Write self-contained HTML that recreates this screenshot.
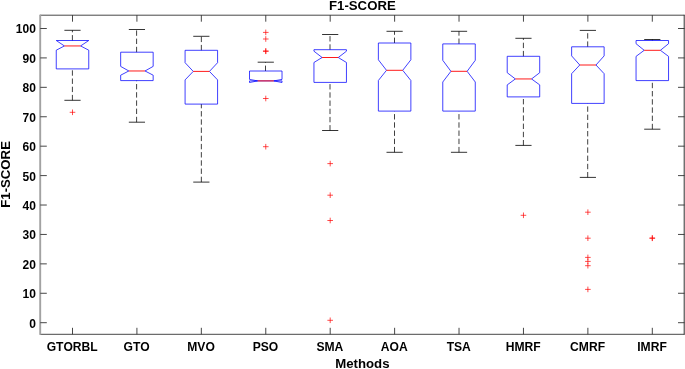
<!DOCTYPE html>
<html><head><meta charset="utf-8"><title>F1-SCORE</title>
<style>html,body{margin:0;padding:0;background:#fff;}body{width:685px;height:369px;overflow:hidden;position:relative;font-family:"Liberation Sans",sans-serif;}</style>
</head><body>
<svg width="685" height="369" viewBox="0 0 685 369" style="position:absolute;left:0;top:0;will-change:transform">
<g stroke="#262626" stroke-width="0.85" fill="none">
<path d="M39.9 15.2H684.5M39.9 334.3H684.5"/>
<path d="M684.2 14.8V334.7" stroke-width="0.95"/>
<path d="M40.2 14.8V334.7" stroke-width="1.9" stroke="#a2a2a2"/>
<path d="M72.50 15.2v6.5M72.50 334.3v-6.5"/>
<path d="M136.92 15.2v6.5M136.92 334.3v-6.5"/>
<path d="M201.34 15.2v6.5M201.34 334.3v-6.5"/>
<path d="M265.77 15.2v6.5M265.77 334.3v-6.5"/>
<path d="M330.19 15.2v6.5M330.19 334.3v-6.5"/>
<path d="M394.61 15.2v6.5M394.61 334.3v-6.5"/>
<path d="M459.03 15.2v6.5M459.03 334.3v-6.5"/>
<path d="M523.46 15.2v6.5M523.46 334.3v-6.5"/>
<path d="M587.88 15.2v6.5M587.88 334.3v-6.5"/>
<path d="M652.30 15.2v6.5M652.30 334.3v-6.5"/>
<path d="M40.3 322.70h6.5M684.5 322.70h-6.5"/>
<path d="M40.3 293.28h6.5M684.5 293.28h-6.5"/>
<path d="M40.3 263.86h6.5M684.5 263.86h-6.5"/>
<path d="M40.3 234.44h6.5M684.5 234.44h-6.5"/>
<path d="M40.3 205.02h6.5M684.5 205.02h-6.5"/>
<path d="M40.3 175.60h6.5M684.5 175.60h-6.5"/>
<path d="M40.3 146.18h6.5M684.5 146.18h-6.5"/>
<path d="M40.3 116.76h6.5M684.5 116.76h-6.5"/>
<path d="M40.3 87.34h6.5M684.5 87.34h-6.5"/>
<path d="M40.3 57.92h6.5M684.5 57.92h-6.5"/>
<path d="M40.3 28.50h6.5M684.5 28.50h-6.5"/>
</g>
<path d="M72.40 40.5V30.3" stroke="#000" stroke-width="0.75" stroke-dasharray="5.4 2.8" fill="none"/>
<path d="M64.40 30.3H80.60" stroke="#000" stroke-width="0.8" fill="none"/>
<path d="M72.40 100.3V68.9" stroke="#000" stroke-width="0.75" stroke-dasharray="5.4 2.8" fill="none"/>
<path d="M64.40 100.3H80.60" stroke="#000" stroke-width="0.8" fill="none"/>
<path d="M56.25 68.9V50.2L64.40 45.95L56.25 40.5V40.5H88.75V40.5L80.60 45.95L88.75 50.2V68.9Z" stroke="#0000ff" stroke-width="0.75" fill="none" stroke-linejoin="miter"/>
<path d="M64.40 45.95H80.60" stroke="#ff0000" stroke-width="0.9" fill="none"/>
<path d="M69.70 112.3h5.6M72.50 109.5v5.6" stroke="#ff0000" stroke-width="0.7" fill="none"/>
<path d="M136.60 52.2V29.5" stroke="#000" stroke-width="0.75" stroke-dasharray="5.4 2.8" fill="none"/>
<path d="M128.82 29.5H145.02" stroke="#000" stroke-width="0.8" fill="none"/>
<path d="M136.60 122.2V80.6" stroke="#000" stroke-width="0.75" stroke-dasharray="5.4 2.8" fill="none"/>
<path d="M128.82 122.2H145.02" stroke="#000" stroke-width="0.8" fill="none"/>
<path d="M120.67 80.6V75.2L128.82 70.98L120.67 66.4V52.2H153.17V66.4L145.02 70.98L153.17 75.2V80.6Z" stroke="#0000ff" stroke-width="0.75" fill="none" stroke-linejoin="miter"/>
<path d="M128.82 70.98H145.02" stroke="#ff0000" stroke-width="0.9" fill="none"/>
<path d="M201.35 50.3V36.3" stroke="#000" stroke-width="0.75" stroke-dasharray="5.4 2.8" fill="none"/>
<path d="M193.24 36.3H209.44" stroke="#000" stroke-width="0.8" fill="none"/>
<path d="M201.35 182.1V104.1" stroke="#000" stroke-width="0.75" stroke-dasharray="5.4 2.8" fill="none"/>
<path d="M193.24 182.1H209.44" stroke="#000" stroke-width="0.8" fill="none"/>
<path d="M185.09 104.1V79.9L193.24 71.4L185.09 62.7V50.3H217.59V62.7L209.44 71.4L217.59 79.9V104.1Z" stroke="#0000ff" stroke-width="0.75" fill="none" stroke-linejoin="miter"/>
<path d="M193.24 71.4H209.44" stroke="#ff0000" stroke-width="0.9" fill="none"/>
<path d="M265.50 71.0V62.2" stroke="#000" stroke-width="0.75" stroke-dasharray="5.4 2.8" fill="none"/>
<path d="M257.67 62.2H273.87" stroke="#000" stroke-width="0.8" fill="none"/>
<path d="M249.52 80.9V82.5L257.67 80.9L249.52 79.4V71.0H282.02V79.4L273.87 80.9L282.02 82.5V80.9Z" stroke="#0000ff" stroke-width="0.75" fill="none" stroke-linejoin="miter"/>
<path d="M257.67 80.9H273.87" stroke="#ff0000" stroke-width="0.9" fill="none"/>
<path d="M262.97 32.4h5.6M265.77 29.599999999999998v5.6" stroke="#ff0000" stroke-width="0.7" fill="none"/>
<path d="M262.97 39.0h5.6M265.77 36.2v5.6" stroke="#ff0000" stroke-width="0.7" fill="none"/>
<path d="M262.97 51.0h5.6M265.77 48.2v5.6" stroke="#ff0000" stroke-width="0.7" fill="none"/>
<path d="M262.97 51.3h5.6M265.77 48.5v5.6" stroke="#ff0000" stroke-width="0.7" fill="none"/>
<path d="M262.97 98.5h5.6M265.77 95.7v5.6" stroke="#ff0000" stroke-width="0.7" fill="none"/>
<path d="M262.97 146.7h5.6M265.77 143.89999999999998v5.6" stroke="#ff0000" stroke-width="0.7" fill="none"/>
<path d="M330.00 49.7V34.5" stroke="#000" stroke-width="0.75" stroke-dasharray="5.4 2.8" fill="none"/>
<path d="M322.09 34.5H338.29" stroke="#000" stroke-width="0.8" fill="none"/>
<path d="M330.00 130.5V82.4" stroke="#000" stroke-width="0.75" stroke-dasharray="5.4 2.8" fill="none"/>
<path d="M322.09 130.5H338.29" stroke="#000" stroke-width="0.8" fill="none"/>
<path d="M313.94 82.4V62.5L322.09 57.5L313.94 51.2V49.7H346.44V51.2L338.29 57.5L346.44 62.5V82.4Z" stroke="#0000ff" stroke-width="0.75" fill="none" stroke-linejoin="miter"/>
<path d="M322.09 57.5H338.29" stroke="#ff0000" stroke-width="0.9" fill="none"/>
<path d="M327.39 163.6h5.6M330.19 160.79999999999998v5.6" stroke="#ff0000" stroke-width="0.7" fill="none"/>
<path d="M327.39 195.2h5.6M330.19 192.39999999999998v5.6" stroke="#ff0000" stroke-width="0.7" fill="none"/>
<path d="M327.39 220.5h5.6M330.19 217.7v5.6" stroke="#ff0000" stroke-width="0.7" fill="none"/>
<path d="M327.39 320.3h5.6M330.19 317.5v5.6" stroke="#ff0000" stroke-width="0.7" fill="none"/>
<path d="M394.50 43.0V31.3" stroke="#000" stroke-width="0.75" stroke-dasharray="5.4 2.8" fill="none"/>
<path d="M386.51 31.3H402.71" stroke="#000" stroke-width="0.8" fill="none"/>
<path d="M394.50 152.3V111.1" stroke="#000" stroke-width="0.75" stroke-dasharray="5.4 2.8" fill="none"/>
<path d="M386.51 152.3H402.71" stroke="#000" stroke-width="0.8" fill="none"/>
<path d="M378.36 111.1V80.5L386.51 70.3L378.36 59.8V43.0H410.86V59.8L402.71 70.3L410.86 80.5V111.1Z" stroke="#0000ff" stroke-width="0.75" fill="none" stroke-linejoin="miter"/>
<path d="M386.51 70.3H402.71" stroke="#ff0000" stroke-width="0.9" fill="none"/>
<path d="M458.98 43.9V31.3" stroke="#000" stroke-width="0.75" stroke-dasharray="5.4 2.8" fill="none"/>
<path d="M450.93 31.3H467.13" stroke="#000" stroke-width="0.8" fill="none"/>
<path d="M458.98 152.3V111.1" stroke="#000" stroke-width="0.75" stroke-dasharray="5.4 2.8" fill="none"/>
<path d="M450.93 152.3H467.13" stroke="#000" stroke-width="0.8" fill="none"/>
<path d="M442.78 111.1V82.0L450.93 71.3L442.78 60.3V43.9H475.28V60.3L467.13 71.3L475.28 82.0V111.1Z" stroke="#0000ff" stroke-width="0.75" fill="none" stroke-linejoin="miter"/>
<path d="M450.93 71.3H467.13" stroke="#ff0000" stroke-width="0.9" fill="none"/>
<path d="M523.40 56.3V38.3" stroke="#000" stroke-width="0.75" stroke-dasharray="5.4 2.8" fill="none"/>
<path d="M515.36 38.3H531.56" stroke="#000" stroke-width="0.8" fill="none"/>
<path d="M523.40 145.4V96.9" stroke="#000" stroke-width="0.75" stroke-dasharray="5.4 2.8" fill="none"/>
<path d="M515.36 145.4H531.56" stroke="#000" stroke-width="0.8" fill="none"/>
<path d="M507.21 96.9V84.9L515.36 78.95L507.21 72.7V56.3H539.71V72.7L531.56 78.95L539.71 84.9V96.9Z" stroke="#0000ff" stroke-width="0.75" fill="none" stroke-linejoin="miter"/>
<path d="M515.36 78.95H531.56" stroke="#ff0000" stroke-width="0.9" fill="none"/>
<path d="M520.66 215.3h5.6M523.46 212.5v5.6" stroke="#ff0000" stroke-width="0.7" fill="none"/>
<path d="M587.70 46.8V30.4" stroke="#000" stroke-width="0.75" stroke-dasharray="5.4 2.8" fill="none"/>
<path d="M579.78 30.4H595.98" stroke="#000" stroke-width="0.8" fill="none"/>
<path d="M587.70 177.4V103.4" stroke="#000" stroke-width="0.75" stroke-dasharray="5.4 2.8" fill="none"/>
<path d="M579.78 177.4H595.98" stroke="#000" stroke-width="0.8" fill="none"/>
<path d="M571.63 103.4V73.7L579.78 65.0L571.63 55.9V46.8H604.13V55.9L595.98 65.0L604.13 73.7V103.4Z" stroke="#0000ff" stroke-width="0.75" fill="none" stroke-linejoin="miter"/>
<path d="M579.78 65.0H595.98" stroke="#ff0000" stroke-width="0.9" fill="none"/>
<path d="M585.08 212.2h5.6M587.88 209.39999999999998v5.6" stroke="#ff0000" stroke-width="0.7" fill="none"/>
<path d="M585.08 238.2h5.6M587.88 235.39999999999998v5.6" stroke="#ff0000" stroke-width="0.7" fill="none"/>
<path d="M585.08 257.4h5.6M587.88 254.59999999999997v5.6" stroke="#ff0000" stroke-width="0.7" fill="none"/>
<path d="M585.08 261.4h5.6M587.88 258.59999999999997v5.6" stroke="#ff0000" stroke-width="0.7" fill="none"/>
<path d="M585.08 265.7h5.6M587.88 262.9v5.6" stroke="#ff0000" stroke-width="0.7" fill="none"/>
<path d="M585.08 289.4h5.6M587.88 286.59999999999997v5.6" stroke="#ff0000" stroke-width="0.7" fill="none"/>
<path d="M652.35 40.5V39.5" stroke="#000" stroke-width="0.75" stroke-dasharray="5.4 2.8" fill="none"/>
<path d="M644.20 39.5H660.40" stroke="#000" stroke-width="0.8" fill="none"/>
<path d="M652.35 129.2V80.6" stroke="#000" stroke-width="0.75" stroke-dasharray="5.4 2.8" fill="none"/>
<path d="M644.20 129.2H660.40" stroke="#000" stroke-width="0.8" fill="none"/>
<path d="M636.05 80.6V56.4L644.20 50.3L636.05 43.7V40.5H668.55V43.7L660.40 50.3L668.55 56.4V80.6Z" stroke="#0000ff" stroke-width="0.75" fill="none" stroke-linejoin="miter"/>
<path d="M644.20 50.3H660.40" stroke="#ff0000" stroke-width="0.9" fill="none"/>
<path d="M649.50 238.0h5.6M652.30 235.2v5.6" stroke="#ff0000" stroke-width="0.7" fill="none"/>
<path d="M649.50 238.3h5.6M652.30 235.5v5.6" stroke="#ff0000" stroke-width="0.7" fill="none"/>
<g font-family="Liberation Sans, sans-serif" font-weight="bold" fill="#000" style="font-kerning:none">
<text x="35.85" y="327.60" font-size="12" text-anchor="end">0</text>
<text x="35.85" y="298.18" font-size="12" text-anchor="end">10</text>
<text x="35.85" y="268.76" font-size="12" text-anchor="end">20</text>
<text x="35.85" y="239.34" font-size="12" text-anchor="end">30</text>
<text x="35.85" y="209.92" font-size="12" text-anchor="end">40</text>
<text x="35.85" y="180.50" font-size="12" text-anchor="end">50</text>
<text x="35.85" y="151.08" font-size="12" text-anchor="end">60</text>
<text x="35.85" y="121.66" font-size="12" text-anchor="end">70</text>
<text x="35.85" y="92.24" font-size="12" text-anchor="end">80</text>
<text x="35.85" y="62.82" font-size="12" text-anchor="end">90</text>
<text x="35.85" y="33.40" font-size="12" text-anchor="end">100</text>
<text x="72.20" y="351.2" font-size="12.1" text-anchor="middle">GTORBL</text>
<text x="136.62" y="351.2" font-size="12.1" text-anchor="middle">GTO</text>
<text x="201.04" y="351.2" font-size="12.1" text-anchor="middle">MVO</text>
<text x="265.47" y="351.2" font-size="12.1" text-anchor="middle">PSO</text>
<text x="329.89" y="351.2" font-size="12.1" text-anchor="middle">SMA</text>
<text x="394.31" y="351.2" font-size="12.1" text-anchor="middle">AOA</text>
<text x="458.73" y="351.2" font-size="12.1" text-anchor="middle">TSA</text>
<text x="523.16" y="351.2" font-size="12.1" text-anchor="middle">HMRF</text>
<text x="587.58" y="351.2" font-size="12.1" text-anchor="middle">CMRF</text>
<text x="652.00" y="351.2" font-size="12.1" text-anchor="middle">IMRF</text>
<text x="362.4" y="10" font-size="13.2" text-anchor="middle">F1-SCORE</text>
<text x="362.4" y="368.4" font-size="13.2" text-anchor="middle">Methods</text>
<text transform="translate(10.0 174.4) rotate(-90)" font-size="13.2" text-anchor="middle">F1-SCORE</text>
</g>
</svg>
</body></html>
